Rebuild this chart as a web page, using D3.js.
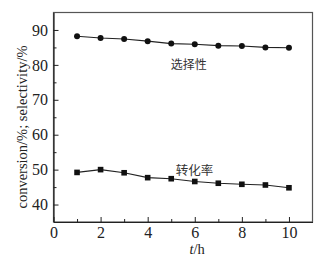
<!DOCTYPE html>
<html><head><meta charset="utf-8">
<script src="https://cdn.jsdelivr.net/npm/d3@7"></script>
<style>body{margin:0;background:#fff}svg{display:block}</style>
</head><body>
<svg id="c" width="321" height="260"></svg>
<script>
const hours = [1,2,3,4,5,6,7,8,9,10];
const selectivity = [88.2,87.7,87.4,86.8,86.1,85.9,85.5,85.4,85.0,84.9];
const conversion = [49.2,50.0,49.1,47.7,47.4,46.6,46.1,45.8,45.6,44.8];
const xTicks = [0,2,4,6,8,10];
const yTicks = [40,50,60,70,80,90];
const labelSel = "选择性";
const labelConv = "转化率";
const yTitle = "conversion/%; selectivity/%";

const svg = d3.select("#c");
const L=53.5,T=12.5,R=312.5,B=222;
const x = d3.scaleLinear().domain([0,11]).range([L,R]);
const y = d3.scaleLinear().domain([35,95]).range([B,T]);
const serif = "'Liberation Serif','Times New Roman',serif";

// frame
svg.append("rect").attr("x",L).attr("y",T).attr("width",R-L).attr("height",B-T)
  .attr("fill","none").attr("stroke","#555").attr("stroke-width",1.2);

// x axis
const xa = svg.append("g").attr("transform",`translate(0,${B})`)
  .call(d3.axisBottom(x).tickValues(xTicks).tickSizeInner(-5).tickSizeOuter(0).tickPadding(5).tickFormat(d3.format("d")));
xa.select(".domain").attr("stroke","#222").attr("stroke-width",1.2);
xa.selectAll("text").attr("font-family",serif).attr("font-size",16).attr("fill","#222");
xa.selectAll(".tick line").attr("stroke","#222");
svg.append("g").attr("transform",`translate(0,${B})`)
  .call(d3.axisBottom(x).tickValues([1,3,5,7,9]).tickSizeInner(-3).tickSizeOuter(0).tickFormat(""))
  .call(g=>g.select(".domain").remove()).selectAll("line").attr("stroke","#222");

// y axis
const ya = svg.append("g").attr("transform",`translate(${L},0)`)
  .call(d3.axisLeft(y).tickValues(yTicks).tickSizeInner(-5).tickSizeOuter(0).tickPadding(5.5).tickFormat(d3.format("d")));
ya.select(".domain").attr("stroke","#222").attr("stroke-width",1.2);
ya.selectAll("text").attr("font-family",serif).attr("font-size",16).attr("fill","#222");
ya.selectAll(".tick line").attr("stroke","#222");
svg.append("g").attr("transform",`translate(${L},0)`)
  .call(d3.axisLeft(y).tickValues([45,55,65,75,85]).tickSizeInner(-3).tickSizeOuter(0).tickFormat(""))
  .call(g=>g.select(".domain").remove()).selectAll("line").attr("stroke","#222");

// lines
const line = vals => d3.line().x((d,i)=>x(hours[i])).y(d=>y(d))(vals);
svg.append("path").attr("d",line(selectivity)).attr("fill","none").attr("stroke","#222").attr("stroke-width",1.1);
svg.append("path").attr("d",line(conversion)).attr("fill","none").attr("stroke","#222").attr("stroke-width",1.1);
svg.selectAll(".sel").data(selectivity).join("circle")
  .attr("cx",(d,i)=>x(hours[i])).attr("cy",d=>y(d)).attr("r",3).attr("fill","#111");
svg.selectAll(".conv").data(conversion).join("rect")
  .attr("x",(d,i)=>x(hours[i])-2.8).attr("y",d=>y(d)-2.8).attr("width",5.6).attr("height",5.6).attr("fill","#111");

// annotations
const cjk = "'Noto Sans CJK SC',sans-serif";
svg.append("text").attr("x",x(4.98)).attr("y",y(78.8)).attr("font-family",cjk).attr("font-size",12).attr("fill","#333").text(labelSel);
svg.append("text").attr("x",x(5.19)).attr("y",y(48.6)).attr("font-family",cjk).attr("font-size",12.5).attr("fill","#333").text(labelConv);

// titles
svg.append("text").attr("transform",`translate(26.5,127) rotate(-90)`).attr("text-anchor","middle")
  .attr("font-family",serif).attr("font-size",14.5).attr("fill","#222").text(yTitle);
const xt = svg.append("text").attr("x",x(6.1)).attr("y",254).attr("text-anchor","middle")
  .attr("font-family",serif).attr("font-size",14.5).attr("fill","#222");
xt.append("tspan").attr("font-style","italic").text("t");
xt.append("tspan").text("/h");
</script>
</body></html>
